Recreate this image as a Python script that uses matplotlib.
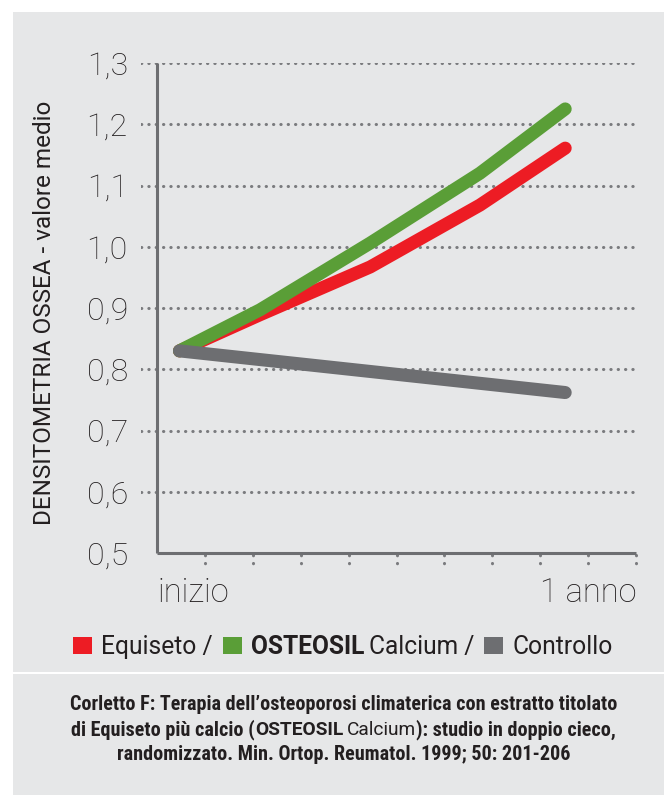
import matplotlib
matplotlib.use("Agg")
import matplotlib.pyplot as plt
from matplotlib.patches import Rectangle
from matplotlib import font_manager
from matplotlib.font_manager import FontProperties

# ---- data ----
y_ticks = [0.5, 0.6, 0.7, 0.8, 0.9, 1.0, 1.1, 1.2, 1.3]
y_tick_labels = ["0,5", "0,6", "0,7", "0,8", "0,9", "1,0", "1,1", "1,2", "1,3"]
x_ticks = [1, 2, 3, 4, 5, 6, 7, 8, 9, 10]

x_curve = [0.47, 2.15, 4.45, 6.74, 8.52]
osteosil = [0.83, 0.897, 1.006, 1.120, 1.225]
equiseto = [0.83, 0.889, 0.967, 1.068, 1.161]
x_ctrl = [0.47, 8.52]
controllo = [0.83, 0.762]

RED, GREEN, GREY = "#ed1c24", "#5a9e37", "#6d6e71"
BG, INK, DOT = "#e6e7e8", "#231f20", "#7a7b7e"

plt.rcParams["font.family"] = ["Roboto", "DejaVu Sans"]


# a narrow bold face for the caption, if one is installed
def find_narrow():
    fl = font_manager.fontManager.ttflist
    for pref in ("Roboto Condensed", "Liberation Sans Narrow", "DejaVu Sans"):
        for f in fl:
            narrow = ("Narrow" in f.name or "Condensed" in f.name
                      or str(f.stretch) in ("condensed", "semi-condensed", "575", "600", "625", "650"))
            bold = f.weight in ("bold", 700, "700") or "Bold" in f.fname
            if f.name.startswith(pref.split()[0]) and narrow and bold and "Oblique" not in f.fname \
                    and "Italic" not in f.fname:
                return f.fname
    return None

narrow_file = find_narrow()

def cap_font(size):
    if narrow_file:
        return FontProperties(fname=narrow_file, size=size)
    return FontProperties(family="Roboto", weight="bold", size=size)


W, H = 664, 796
fig = plt.figure(figsize=(W / 100, H / 100), dpi=100)
fig.patch.set_facecolor("white")

def fx(px):
    return px / W

def fy(py):
    return 1 - py / H

# two grey panels
fig.add_artist(Rectangle((fx(13), fy(672)), fx(651), 660 / H, transform=fig.transFigure,
                         facecolor=BG, edgecolor="none", zorder=0))
fig.add_artist(Rectangle((fx(13), fy(795)), fx(651), 121 / H, transform=fig.transFigure,
                         facecolor=BG, edgecolor="none", zorder=0))

# axes: left 141px (grid start), right 638px, top 63px, bottom 553px
ax = fig.add_axes([fx(141), fy(553), fx(638 - 141), (553 - 63) / H])
ax.set_facecolor("none")
ax.set_xlim(-0.334, 10.04)
ax.set_ylim(0.5, 1.3)
for s in ax.spines.values():
    s.set_visible(False)

for v in y_ticks[1:]:
    ax.axhline(v, color=DOT, lw=2.2, linestyle=(0, (0.1, 2.3)), dash_capstyle="round", zorder=1)

ax.plot([0, 0], [0.5, 1.3], color=GREY, lw=2.2, solid_capstyle="butt", zorder=2, clip_on=False)
ax.plot([0, 10], [0.5, 0.5], color=GREY, lw=2.2, solid_capstyle="butt", zorder=2, clip_on=False)
ax.vlines(x_ticks, 0.497, 0.472, color=DOT, lw=2.2, linestyle=(0, (0.1, 2.5)),
          capstyle="round", clip_on=False, zorder=1)

ax.set_yticks(y_ticks, y_tick_labels, fontsize=23, color=INK, fontweight="light")
ax.tick_params(axis="y", length=0, pad=9.5)
ax.set_xticks([])

kw = dict(lw=9.4, solid_capstyle="round", solid_joinstyle="round", clip_on=False)
ax.plot(x_curve, equiseto, color=RED, zorder=3, **kw)
ax.plot(x_curve, osteosil, color=GREEN, zorder=4, **kw)
ax.plot(x_ctrl, controllo, color=GREY, zorder=5, **kw)

fig.text(fx(157), fy(602), "inizio", fontsize=23.5, color=INK, fontweight="light", va="baseline", ha="left")
fig.text(fx(636), fy(602), "1 anno", fontsize=23.5, color=INK, fontweight="light", va="baseline", ha="right")

fig.text(fx(45), fy(313), "DENSITOMETRIA OSSEA - valore medio", rotation=90, fontsize=17.5,
         color=INK, va="center", ha="center")

renderer = fig.canvas.get_renderer()


def run_line(pieces, x0, base, center=None):
    """pieces: ('sq', colour) or ('tx', text, fontprops, gap_after). x in px from left, base px from top."""
    arts = []
    x = x0
    for p in pieces:
        if p[0] == "sq":
            r = Rectangle((fx(x), fy(base)), fx(19), 17 / H, transform=fig.transFigure,
                          facecolor=p[1], edgecolor="none")
            fig.add_artist(r)
            arts.append(("sq", r, x))
            x += 19 + 9
        else:
            t = fig.text(fx(x), fy(base), p[1], fontproperties=p[2], color=INK, va="baseline", ha="left")
            bb = t.get_window_extent(renderer)
            arts.append(("tx", t, x))
            x += bb.width + p[3]
    if center is not None:
        shift = center - (x0 + x) / 2
        for kind, a, ax0 in arts:
            if kind == "sq":
                a.set_x(fx(ax0 + shift))
            else:
                a.set_x(fx(ax0 + shift))
    return x


# legend row
leg = FontProperties(family="Roboto", size=17.7)
legb = FontProperties(family="Roboto", weight="bold", size=17.7)
run_line([("sq", RED), ("tx", "Equiseto /", leg, 10),
          ("sq", GREEN), ("tx", "OSTEOSIL", legb, 5), ("tx", "Calcium /", leg, 10),
          ("sq", GREY), ("tx", "Controllo", leg, 0)], 73, 654)

# caption: pick size so that line 1 is as wide as in the reference (about 544 px)
line1 = "Corletto F: Terapia dell\u2019osteoporosi climaterica con estratto titolato"
probe = fig.text(0, 0, line1, fontproperties=cap_font(15))
w15 = probe.get_window_extent(renderer).width
probe.remove()
cs = min(15.5, 15 * 544 / w15)

cb = cap_font(cs)
rb = FontProperties(family="Roboto", weight="bold", size=cs * 0.95)
rr = FontProperties(family="Roboto", size=cs * 0.95)
mid = (13 + 664) / 2 + 5
run_line([("tx", line1, cb, 0)], 0, 710, center=mid)
run_line([("tx", "di Equiseto più calcio (", cb, 0), ("tx", "OSTEOSIL", rb, 4),
          ("tx", "Calcium", rr, 0), ("tx", "): studio in doppio cieco,", cb, 0)], 0, 735, center=mid)
run_line([("tx", "randomizzato. Min. Ortop. Reumatol. 1999; 50: 201-206", cb, 0)], 0, 760, center=mid)

fig.savefig("out.png", dpi=100, facecolor="white")
